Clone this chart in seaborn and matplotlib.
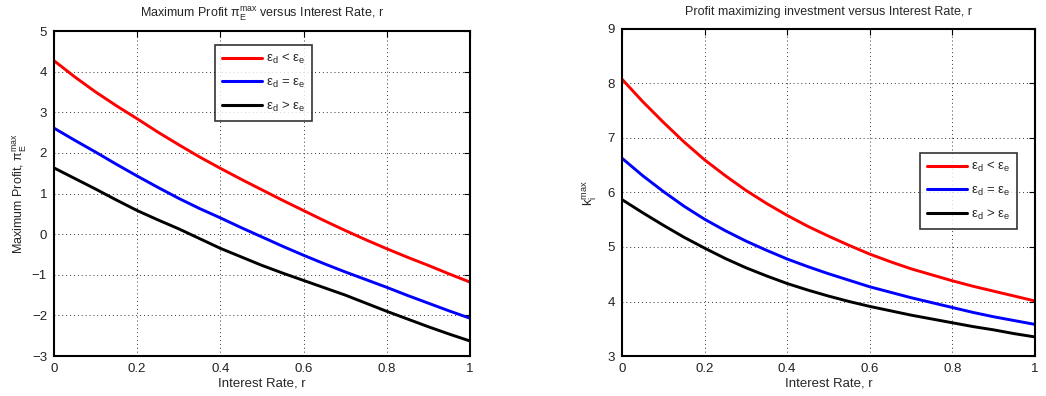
import numpy as np
import pandas as pd
import matplotlib
matplotlib.use("Agg")
import matplotlib.pyplot as plt
import seaborn as sns

# Interest rate grid
rate = [0.00, 0.05, 0.10, 0.15, 0.20, 0.25, 0.30, 0.35, 0.40, 0.45, 0.50,
        0.55, 0.60, 0.65, 0.70, 0.75, 0.80, 0.85, 0.90, 0.95, 1.00]

# Maximum profit for the three elasticity cases
profit_lt = [4.27, 3.87, 3.50, 3.16, 2.84, 2.51, 2.20, 1.90, 1.62, 1.35, 1.09,
             0.83, 0.58, 0.33, 0.09, -0.14, -0.36, -0.57, -0.77, -0.98, -1.18]
profit_eq = [2.61, 2.31, 2.02, 1.72, 1.43, 1.15, 0.88, 0.63, 0.40, 0.16, -0.07,
             -0.30, -0.52, -0.73, -0.93, -1.12, -1.31, -1.51, -1.70, -1.89, -2.07]
profit_gt = [1.63, 1.37, 1.11, 0.84, 0.58, 0.35, 0.13, -0.11, -0.35, -0.56, -0.77,
             -0.96, -1.14, -1.32, -1.50, -1.70, -1.90, -2.09, -2.28, -2.46, -2.63]

# Profit maximizing investment for the three elasticity cases
invest_lt = [8.08, 7.67, 7.29, 6.93, 6.60, 6.31, 6.04, 5.80, 5.58, 5.38, 5.20,
             5.03, 4.87, 4.73, 4.60, 4.49, 4.38, 4.28, 4.19, 4.10, 4.01]
invest_eq = [6.63, 6.31, 6.02, 5.75, 5.51, 5.30, 5.11, 4.94, 4.78, 4.64, 4.51,
             4.39, 4.27, 4.17, 4.07, 3.98, 3.89, 3.80, 3.72, 3.65, 3.58]
invest_gt = [5.87, 5.63, 5.40, 5.18, 4.98, 4.79, 4.62, 4.47, 4.33, 4.21, 4.10,
             4.00, 3.91, 3.83, 3.75, 3.68, 3.61, 3.54, 3.48, 3.41, 3.35]

case_labels = [r"$\mathrm{ε}_\mathrm{d}$ < $\mathrm{ε}_\mathrm{e}$",
               r"$\mathrm{ε}_\mathrm{d}$ = $\mathrm{ε}_\mathrm{e}$",
               r"$\mathrm{ε}_\mathrm{d}$ > $\mathrm{ε}_\mathrm{e}$"]
case_colors = ["#ff0000", "#0000ff", "#000000"]

x_ticks = [0, 0.2, 0.4, 0.6, 0.8, 1]
x_tick_labels = ["0", "0.2", "0.4", "0.6", "0.8", "1"]
profit_ticks = [-3, -2, -1, 0, 1, 2, 3, 4, 5]
invest_ticks = [3, 4, 5, 6, 7, 8, 9]

sns.set_theme(style="white")
plt.rcParams["font.family"] = ["Liberation Sans", "DejaVu Sans"]
plt.rcParams["mathtext.fontset"] = "custom"
plt.rcParams["mathtext.rm"] = "Liberation Sans"
plt.rcParams["mathtext.it"] = "Liberation Sans:italic"
plt.rcParams["mathtext.sf"] = "Liberation Sans"


def long_frame(series):
    rows = []
    for label, values in zip(case_labels, series):
        for r, v in zip(rate, values):
            rows.append({"r": r, "value": v, "case": label})
    return pd.DataFrame(rows)


fig = plt.figure(figsize=(10.46, 3.96), dpi=100)
ax1 = fig.add_axes([0.0516, 0.101, 0.3977, 0.8207])
ax2 = fig.add_axes([0.5946, 0.101, 0.3948, 0.8258])


def style_axes(ax, yticks):
    ax.set_xlim(0, 1)
    ax.set_ylim(yticks[0], yticks[-1])
    ax.set_xticks(x_ticks)
    ax.set_xticklabels(x_tick_labels)
    ax.set_yticks(yticks)
    ax.set_yticklabels([str(t).replace("-", "\u2212") for t in yticks])
    ax.grid(True, color="#333333", linestyle=(0, (1, 3)), linewidth=0.7)
    ax.tick_params(direction="in", length=4, width=0.8, top=True, right=True,
                   labelsize=9.5, pad=5)
    ax.tick_params(axis="both", colors="black", labelcolor="#222222")
    for s in ax.spines.values():
        s.set_visible(True)
        s.set_color("black")
        s.set_linewidth(1.5)


def add_legend(ax, anchor):
    leg = ax.legend(loc="upper left", bbox_to_anchor=anchor,
                    bbox_transform=fig.transFigure, frameon=True,
                    fontsize=9.5, handlelength=3.0, handletextpad=0.3,
                    labelspacing=0.75, borderpad=0.55, fancybox=False,
                    edgecolor="black", borderaxespad=0)
    leg.get_frame().set_linewidth(1.2)
    for line in leg.get_lines():
        line.set_linewidth(2.2)
    return leg


sns.lineplot(data=long_frame([profit_lt, profit_eq, profit_gt]), x="r", y="value",
             hue="case", palette=case_colors, linewidth=2.1, ax=ax1)
style_axes(ax1, profit_ticks)
ax1.set_title(r"Maximum Profit $\mathrm{π}_\mathrm{E}^\mathrm{max}$ versus Interest Rate, r",
              fontsize=9, pad=10)
ax1.set_xlabel("Interest Rate, r", fontsize=9.5, labelpad=2)
ax1.set_ylabel(r"Maximum Profit, $\mathrm{π}_\mathrm{E}^\mathrm{max}$", fontsize=9, labelpad=2)
add_legend(ax1, (0.2055, 0.8864))

sns.lineplot(data=long_frame([invest_lt, invest_eq, invest_gt]), x="r", y="value",
             hue="case", palette=case_colors, linewidth=2.1, ax=ax2)
style_axes(ax2, invest_ticks)
ax2.set_title("Profit maximizing investment versus Interest Rate, r",
              fontsize=9, pad=10)
ax2.set_xlabel("Interest Rate, r", fontsize=9.5, labelpad=2)
ax2.set_ylabel(r"$\mathrm{k}_\mathrm{i}^\mathrm{max}$", fontsize=9.5, labelpad=6)
add_legend(ax2, (0.8795, 0.6136))

fig.savefig("out.png", dpi=100, facecolor="white")
